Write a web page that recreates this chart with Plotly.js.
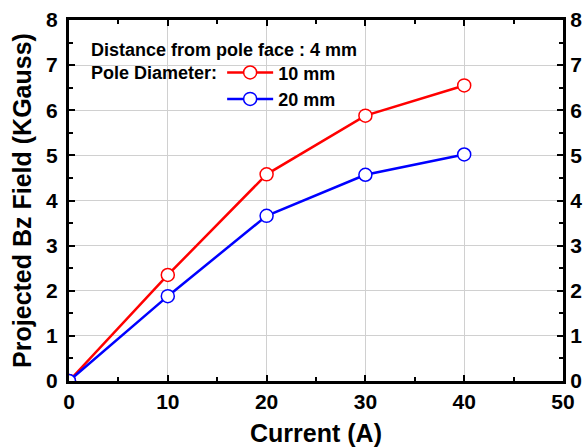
<!DOCTYPE html>
<html>
<head>
<script src="https://cdn.plot.ly/plotly-3.0.1.min.js"></script>
<style>html,body{margin:0;padding:0;background:#fff;}</style>
</head>
<body>
<div id="chart" style="width:584px;height:447px;"></div>
<script>
const current = [0, 10, 20, 30, 40];
const field10mm = [0, 2.35, 4.58, 5.88, 6.55];
const field20mm = [0, 1.88, 3.66, 4.57, 5.02];
const seriesNames = ["10 mm", "20 mm"];
const xTicks = [0, 10, 20, 30, 40, 50];
const yTicks = [0, 1, 2, 3, 4, 5, 6, 7, 8];

const FONT = "Liberation Sans, Arial, sans-serif";

const traces = [
  {x: current, y: field10mm, name: seriesNames[0], mode: "lines+markers",
   line: {color: "#ff0000", width: 2.5}, marker: {symbol: "circle", size: 13, color: "#ffffff", line: {width: 1.5, color: "#ff0000"}}},
  {x: current, y: field20mm, name: seriesNames[1], mode: "lines+markers",
   line: {color: "#0000ff", width: 2.5}, marker: {symbol: "circle", size: 13, color: "#ffffff", line: {width: 1.5, color: "#0000ff"}}},
  {x: [current[0]], y: [field10mm[0]], yaxis: "y2", mode: "markers", showlegend: false, hoverinfo: "skip",
   marker: {opacity: 0}}
];

const axisCommon = {
  showline: true, linecolor: "#000", linewidth: 3,
  ticks: "inside", ticklen: 6, tickwidth: 2, tickcolor: "#000",
  tickfont: {family: FONT, size: 21, color: "#000", weight: "bold"},
  gridcolor: "#d0d0d0", gridwidth: 1, zeroline: false
};

const layout = {
  width: 584, height: 447,
  margin: {l: 69, r: 21, t: 20, b: 66},
  paper_bgcolor: "#fff", plot_bgcolor: "#fff",
  font: {family: FONT, color: "#000"},
  xaxis: Object.assign({}, axisCommon, {
    range: [0, 50], tickvals: xTicks, mirror: "ticks",
    minor: {dtick: 5, ticks: "inside", ticklen: 4, tickwidth: 2, tickcolor: "#000", showgrid: false},
    title: {text: "Current (A)", font: {family: FONT, size: 25, weight: "bold"}, standoff: 13}
  }),
  yaxis: Object.assign({}, axisCommon, {
    range: [0, 8], tickvals: yTicks, mirror: "ticks", ticklabelstandoff: 4,
    minor: {dtick: 0.5, ticks: "inside", ticklen: 4, tickwidth: 2, tickcolor: "#000", showgrid: false},
    title: {text: "Projected Bz Field (KGauss)", font: {family: FONT, size: 25, weight: "bold"}, standoff: 8}
  }),
  yaxis2: Object.assign({}, axisCommon, {
    range: [0, 8], tickvals: yTicks, overlaying: "y", side: "right", showgrid: false,
    minor: {dtick: 0.5, ticks: "inside", ticklen: 4, tickwidth: 2, tickcolor: "#000", showgrid: false}
  }),
  legend: {
    x: 0.31, y: 0.905, xanchor: "left", yanchor: "top",
    bgcolor: "rgba(0,0,0,0)", borderwidth: 0,
    font: {family: FONT, size: 18, weight: "bold"}, tracegroupgap: 0, itemwidth: 46
  },
  annotations: [
    {text: "Distance from pole face : 4 mm", xref: "paper", yref: "paper", x: 0.04, y: 0.917,
     xanchor: "left", yanchor: "middle", showarrow: false, font: {family: FONT, size: 18, weight: "bold"}},
    {text: "Pole Diameter:", xref: "paper", yref: "paper", x: 0.04, y: 0.853,
     xanchor: "left", yanchor: "middle", showarrow: false, font: {family: FONT, size: 18, weight: "bold"}}
  ],
  showlegend: true
};

Plotly.newPlot("chart", traces, layout, {displayModeBar: false, staticPlot: true});
</script>
</body>
</html>
